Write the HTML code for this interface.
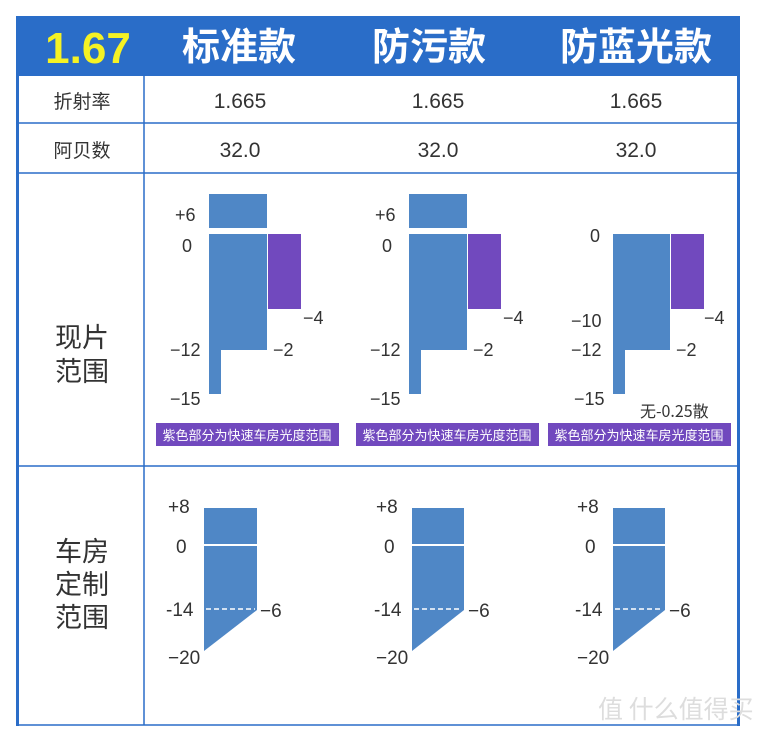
<!DOCTYPE html>
<html><head><meta charset="utf-8"><style>
body{margin:0;background:#fff;}
svg{display:block;}
text{font-family:"Liberation Sans","Noto Sans CJK SC",sans-serif;}
.c{font-family:"Noto Sans CJK SC","Liberation Sans",sans-serif;}
</style></head><body>
<svg width="765" height="735" viewBox="0 0 765 735">
<rect width="765" height="735" fill="#fff"/>
<rect x="16" y="16" width="724" height="60" fill="#2a6dc8"/>
<text x="88" y="63" font-size="44" font-weight="bold" fill="#f5f224" text-anchor="middle">1.67</text>
<g font-size="38" font-weight="bold" fill="#fff" text-anchor="middle">
<text class="c" x="239" y="60">标准款</text>
<text class="c" x="429" y="60">防污款</text>
<text class="c" x="636" y="60">防蓝光款</text>
</g>
<rect x="16" y="76" width="3" height="650" fill="#2a6dc8"/>
<rect x="737" y="76" width="3" height="650" fill="#2a6dc8"/>
<g stroke="#2a6dc8" stroke-width="1.5">
<line x1="144" y1="76" x2="144" y2="725"/>
<line x1="16" y1="123" x2="740" y2="123"/>
<line x1="16" y1="173" x2="740" y2="173"/>
<line x1="16" y1="466" x2="740" y2="466"/>
<line x1="16" y1="725" x2="740" y2="725"/>
</g>
<g font-size="19" fill="#333" text-anchor="middle">
<text class="c" x="82" y="108">折射率</text>
<text class="c" x="82" y="157">阿贝数</text>
<text x="240" y="108" font-size="21">1.665</text>
<text x="438" y="108" font-size="21">1.665</text>
<text x="636" y="108" font-size="21">1.665</text>
<text x="240" y="157" font-size="21">32.0</text>
<text x="438" y="157" font-size="21">32.0</text>
<text x="636" y="157" font-size="21">32.0</text>
</g>
<g font-size="27" fill="#333" text-anchor="middle">
<text class="c" x="82" y="347">现片</text>
<text class="c" x="82" y="381">范围</text>
<text class="c" x="82" y="561">车房</text>
<text class="c" x="82" y="594">定制</text>
<text class="c" x="82" y="627">范围</text>
</g>
<g fill="#4f87c6">
<rect x="209" y="194" width="58" height="34"/>
<rect x="209" y="234" width="58" height="116"/>
<rect x="209" y="350" width="12" height="44"/>
<rect x="409" y="194" width="58" height="34"/>
<rect x="409" y="234" width="58" height="116"/>
<rect x="409" y="350" width="12" height="44"/>
<rect x="613" y="234" width="57" height="116"/>
<rect x="613" y="350" width="12" height="44"/>
</g>
<g fill="#7149be">
<rect x="268" y="234" width="33" height="75"/>
<rect x="468" y="234" width="33" height="75"/>
<rect x="671" y="234" width="33" height="75"/>
<rect x="156" y="423" width="183" height="23"/>
<rect x="356" y="423" width="183" height="23"/>
<rect x="548" y="423" width="183" height="23"/>
</g>
<g font-size="13" fill="#fff" text-anchor="middle">
<text class="c" x="247" y="440">紫色部分为快速车房光度范围</text>
<text class="c" x="447" y="440">紫色部分为快速车房光度范围</text>
<text class="c" x="639" y="440">紫色部分为快速车房光度范围</text>
</g>
<g font-size="18" fill="#333">
<text x="175" y="221">+6</text><text x="182" y="252">0</text>
<text x="303" y="324">−4</text><text x="170" y="356">−12</text>
<text x="273" y="356">−2</text><text x="170" y="405">−15</text>
<text x="375" y="221">+6</text><text x="382" y="252">0</text>
<text x="503" y="324">−4</text><text x="370" y="356">−12</text>
<text x="473" y="356">−2</text><text x="370" y="405">−15</text>
<text x="590" y="242">0</text><text x="704" y="324">−4</text>
<text x="571" y="327">−10</text><text x="571" y="356">−12</text>
<text x="676" y="356">−2</text><text x="574" y="405">−15</text>
<text class="c" x="640" y="417" font-size="16">无-0.25散</text>
</g>
<g fill="#4f87c6">
<polygon points="204,508 257,508 257,610 204,651"/>
<polygon points="412,508 464,508 464,610 412,651"/>
<polygon points="613,508 665,508 665,610 613,651"/>
</g>
<g stroke="#fff" stroke-width="2">
<line x1="204" y1="545" x2="257" y2="545"/>
<line x1="412" y1="545" x2="464" y2="545"/>
<line x1="613" y1="545" x2="665" y2="545"/>
</g>
<g stroke="#fff" stroke-width="1.5" stroke-dasharray="5,3">
<line x1="206" y1="609" x2="255" y2="609"/>
<line x1="414" y1="609" x2="462" y2="609"/>
<line x1="615" y1="609" x2="663" y2="609"/>
</g>
<g font-size="19" fill="#333">
<text x="168" y="513">+8</text><text x="176" y="553">0</text>
<text x="166" y="616">-14</text><text x="260" y="617">−6</text><text x="168" y="664">−20</text>
<text x="376" y="513">+8</text><text x="384" y="553">0</text>
<text x="374" y="616">-14</text><text x="468" y="617">−6</text><text x="376" y="664">−20</text>
<text x="577" y="513">+8</text><text x="585" y="553">0</text>
<text x="575" y="616">-14</text><text x="669" y="617">−6</text><text x="577" y="664">−20</text>
</g>
<text class="c" x="598" y="718" font-size="25" fill="#ddd">值 什么值得买</text>
</svg>
</body></html>
